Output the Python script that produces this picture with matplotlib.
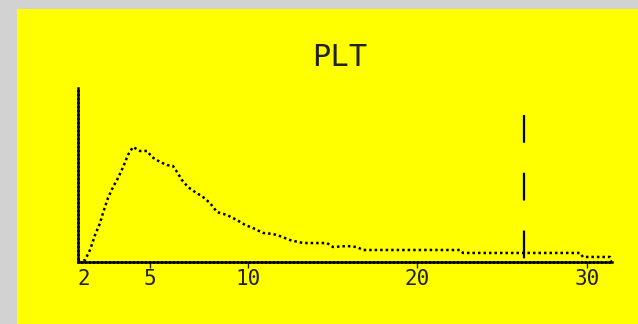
import numpy as np
import matplotlib.pyplot as plt
from matplotlib.patches import Rectangle

# PLT histogram, values (relative counts 0-100)
volume_fl = [2.0, 2.29, 2.5, 2.71, 2.92, 3.04, 3.25, 3.46, 3.67, 3.88, 4.08, 4.29,
             4.58, 4.88, 5.10, 5.51, 5.87, 6.17, 6.38, 6.63, 6.94, 7.30, 7.70, 8.06,
             8.42, 8.93, 9.44, 9.85, 10.30, 10.89, 11.48, 11.89, 12.49, 13.25, 14.08,
             14.67, 15.03, 15.86, 16.45, 16.80, 17.99, 22.53, 22.71, 29.59, 29.76,
             31.35, 31.47]
counts = [0.0, 1.1, 6.9, 15.5, 22.4, 28.2, 36.8, 43.1, 48.3, 54.6, 61.5, 66.1,
          63.8, 63.8, 60.3, 57.5, 55.7, 55.2, 51.7, 47.1, 43.1, 40.2, 37.4, 33.9,
          28.7, 27.0, 24.1, 21.3, 19.5, 16.7, 16.1, 14.9, 12.6, 10.9, 10.9,
          10.9, 8.6, 9.2, 8.6, 6.9, 6.9, 6.9, 5.2, 5.2, 2.9,
          2.9, 0.0]

tick_vals = [2, 5, 10, 20, 30]
tick_labels = ['2', '5', '10', '20', '30']
discriminator_fl = 26.3
discriminator_top = 84.5

# the analyser's volume axis is not quite linear below 10 fL
knots_fl = np.array([0, 2, 5, 10, 20, 30, 40])
knots_pos = np.array([30, 78, 150, 248, 417, 587, 757])

def fwd(x):
    return np.interp(x, knots_fl, knots_pos)

def inv(p):
    return np.interp(p, knots_pos, knots_fl)

fig = plt.figure(figsize=(6.38, 3.24), dpi=100)
fig.patch.set_facecolor('#d2d2d2')
fig.patches.append(Rectangle((17/638, 0), 1, 1 - 9/324, transform=fig.transFigure,
                             facecolor='#ffff00', edgecolor='none', zorder=-1))

ax = fig.add_axes([78/638, 62/324, (612 - 78)/638, (262 - 88)/324])
ax.set_zorder(2)
ax.set_facecolor('none')
ax.set_xscale('function', functions=(fwd, inv))
ax.set_xlim(2, 31.47)
ax.set_ylim(0, 100)

ax.plot(volume_fl, counts, color='black', lw=1.8, linestyle=(0, (1, 1.2)))
ax.plot([discriminator_fl, discriminator_fl], [discriminator_top, 0], color='black',
        lw=1.6, linestyle=(0, (12.5, 13.5)))

for s in ['top', 'right']:
    ax.spines[s].set_visible(False)
for s in ['left', 'bottom']:
    ax.spines[s].set_linewidth(1.8)
    ax.spines[s].set_linestyle((0, (1, 0.6)))
    ax.spines[s].set_color('black')

ax.set_yticks([])
ax.set_xticks(tick_vals)
ax.set_xticklabels(tick_labels, fontfamily='DejaVu Sans Mono', fontsize=15, color='#222222')
ax.get_xticklabels()[0].set_horizontalalignment('left')
ax.tick_params(axis='x', direction='out', length=4, width=1, pad=1, colors='#222222')
ax.xaxis.get_major_ticks()[0].tick1line.set_visible(False)

fig.text(340/638, 1 - 57/324, 'PLT', ha='center', va='center', zorder=3,
         fontfamily='DejaVu Sans Mono', fontsize=22, color='#222222')

plt.savefig('out.png', dpi=100, facecolor=fig.get_facecolor())
